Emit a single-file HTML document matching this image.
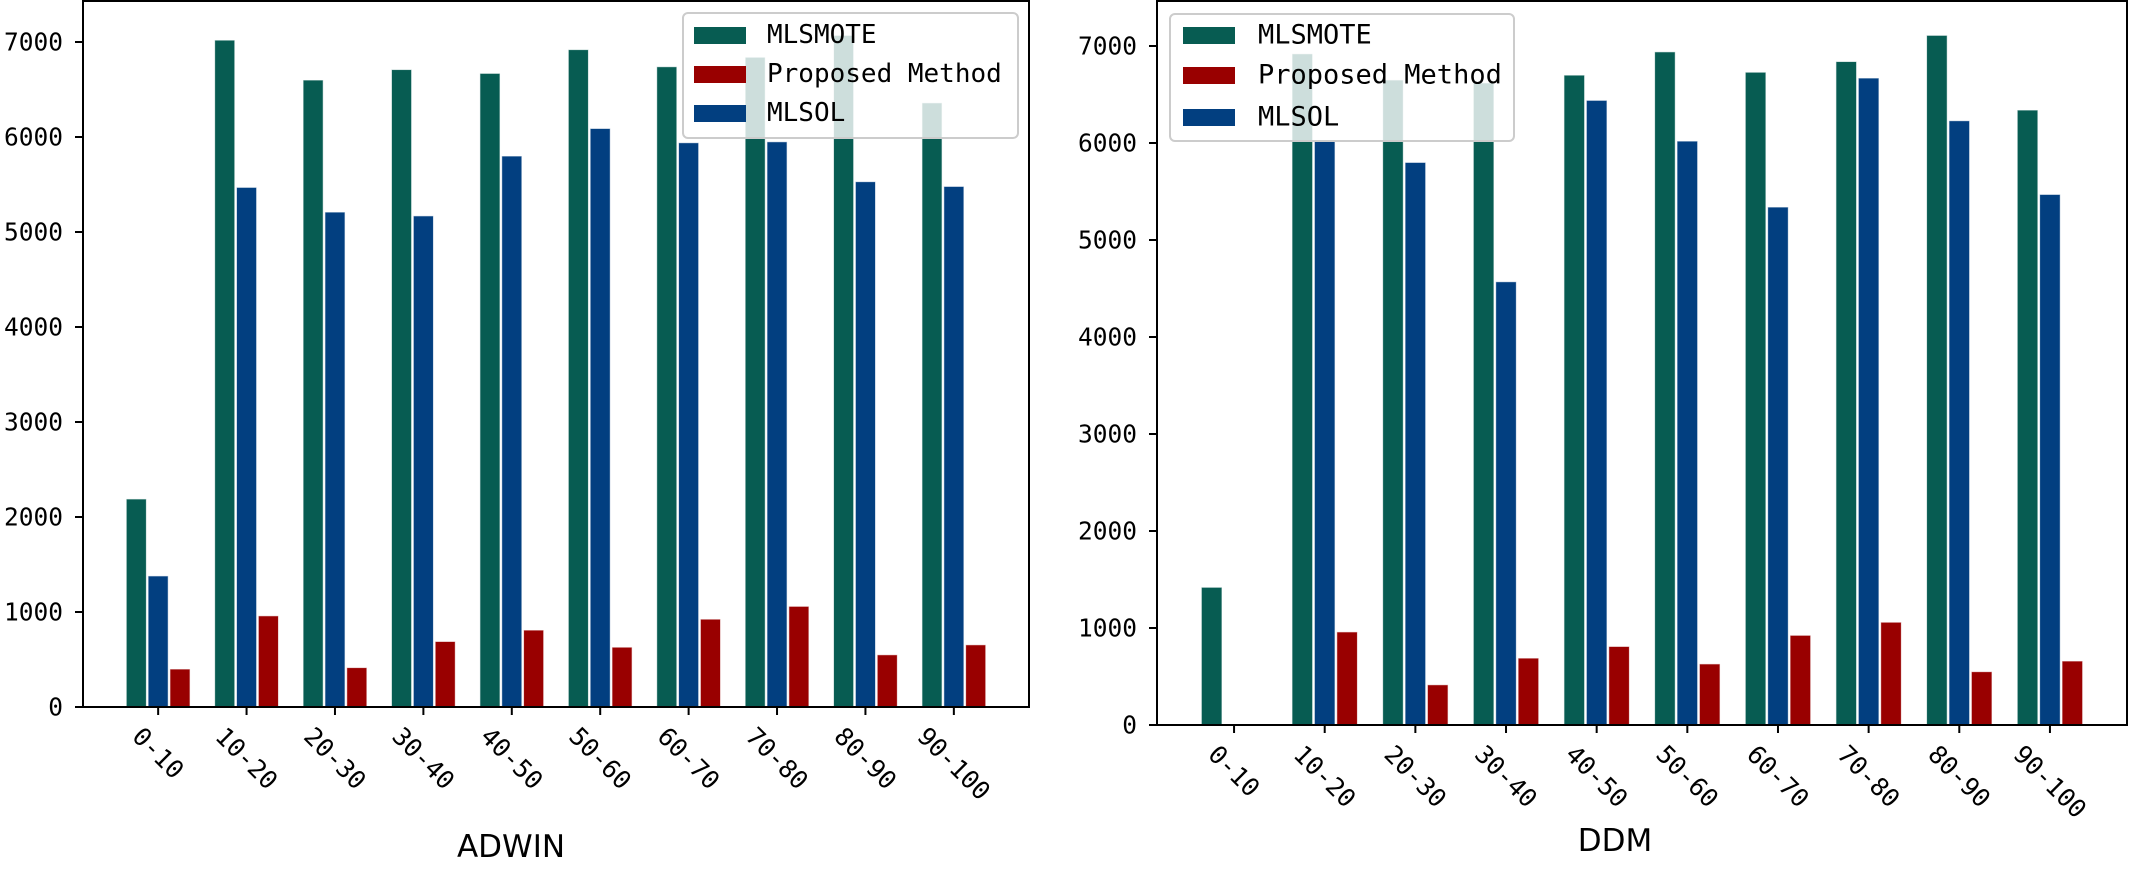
<!DOCTYPE html>
<html><head><meta charset="utf-8">
<style>
html,body{margin:0;padding:0;background:#fff;}
svg{display:block;}
text{font-family:"DejaVu Sans Mono","Liberation Mono",monospace;fill:#000;}
.title{font-family:"DejaVu Sans","Liberation Sans",sans-serif;}
</style></head>
<body>
<svg id="chart" width="2129" height="885" viewBox="0 0 2129 885" xmlns="http://www.w3.org/2000/svg"></svg>
<script>
const categories = ["0-10","10-20","20-30","30-40","40-50","50-60","60-70","70-80","80-90","90-100"];
const seriesNames = ["MLSMOTE","Proposed Method","MLSOL"];
const adwinMlsmote = [2190,7020,6600,6710,6670,6920,6740,6840,7070,6360];
const adwinProposed = [400,960,415,690,810,630,925,1060,550,655];
const adwinMlsol = [1380,5470,5210,5170,5800,6090,5940,5950,5530,5480];
const ddmMlsmote = [1420,6920,6650,6620,6700,6940,6730,6840,7110,6340];
const ddmProposed = [0,960,415,690,810,630,925,1060,550,660];
const ddmMlsol = [0,6030,5800,4570,6440,6020,5340,6670,6230,5470];
const yTicks = [0,1000,2000,3000,4000,5000,6000,7000];

const NS = "http://www.w3.org/2000/svg";
const svg = document.getElementById('chart');
const colors = {"MLSMOTE":"#075c52","Proposed Method":"#990000","MLSOL":"#023f80"};

function mk(tag, attrs, parent){
  const e = document.createElementNS(NS, tag);
  for (const k in attrs) e.setAttribute(k, attrs[k]);
  (parent||svg).appendChild(e);
  return e;
}

function drawPanel(cfg){
  const g = mk('g', {});
  
  
  const L=cfg.left, R=cfg.right, T=cfg.top, B=cfg.base;
  const xMin=-0.85, xMax=9.85;
  const xs = v => L + (v - xMin) / (xMax - xMin) * (R - L);
  const ys = v => B - v * cfg.pxPer1000 / 1000;
  const step = xs(1) - xs(0);
  const bw = step * 0.228, off = step * 0.247;
  const order = [[cfg.mlsmote,"MLSMOTE",-1],[cfg.mlsol,"MLSOL",0],[cfg.proposed,"Proposed Method",1]];
  categories.forEach((c,i)=>{
    order.forEach(([arr,name,k])=>{
      const v = arr[i];
      if (v <= 0) return;
      const cx = xs(i) + k*off;
      const r = mk('rect', {x:cx-bw/2, y:ys(v), width:bw, height:B-ys(v), fill:colors[name], stroke:'#ffffff', 'stroke-width':1, 'stroke-opacity':0.7}, g);
      
      
    });
    const t = mk('line', {x1:xs(i), x2:xs(i), y1:B, y2:B+8, stroke:'#000', 'stroke-width':2}, g);
    
    
    const n = c.length, fs = 25;
    const cy = B + 16 + (n*0.602*fs*0.707 + fs*0.707)/2;
    const lab = mk('text', {x:xs(i), y:cy, 'font-size':fs, 'text-anchor':'middle', 'dominant-baseline':'central', transform:`rotate(45 ${xs(i)} ${cy})`}, g);
    lab.textContent = c;
    
    
  });
  yTicks.forEach(v=>{
    const t = mk('line', {x1:L-8, x2:L, y1:ys(v), y2:ys(v), stroke:'#000', 'stroke-width':2}, g);
    
    
    const lab = mk('text', {x:L-20, y:ys(v), 'font-size':24.5, 'text-anchor':'end', 'dominant-baseline':'central'}, g);
    lab.textContent = String(v);
    
    
  });
  const frame = mk('rect', {x:L, y:T, width:R-L, height:B-T, fill:'none', stroke:'#000', 'stroke-width':2}, g);
  
  
  const lg = mk('g', {}, g);
  
  
  const lb = cfg.legend;
  mk('rect', {x:lb.x, y:lb.y, width:lb.w, height:lb.h, rx:5, fill:'#ffffff', 'fill-opacity':0.8, stroke:'#cccccc', 'stroke-width':2}, lg);
  seriesNames.forEach((s,j)=>{
    const cy = lb.rows[j];
    const e = mk('g', {}, lg);
    
    
    mk('rect', {x:lb.px, y:cy-8, width:52, height:17, fill:colors[s]}, e);
    const tx = mk('text', {x:lb.tx, y:cy, 'font-size':lb.fs, 'dominant-baseline':'central'}, e);
    tx.textContent = s;
  });
  const ttl = mk('text', {x:cfg.titleX, y:cfg.titleY, 'font-size':31, 'text-anchor':'middle', 'dominant-baseline':'central', class:'title'}, g);
  ttl.textContent = cfg.title;
  
  
}

drawPanel({name:'adwin', title:'ADWIN', left:83, right:1029, top:1, base:707, pxPer1000:95,
  mlsmote:adwinMlsmote, proposed:adwinProposed, mlsol:adwinMlsol, titleX:511, titleY:847,
  legend:{x:683,y:13,w:335,h:125,rows:[35,74,113],px:694,tx:767,fs:26}});
drawPanel({name:'ddm', title:'DDM', left:1157, right:2127, top:1, base:725, pxPer1000:97,
  mlsmote:ddmMlsmote, proposed:ddmProposed, mlsol:ddmMlsol, titleX:1615, titleY:841,
  legend:{x:1170,y:14,w:344,h:127,rows:[35,75,117],px:1183,tx:1258,fs:27}});
</script>
</body></html>
